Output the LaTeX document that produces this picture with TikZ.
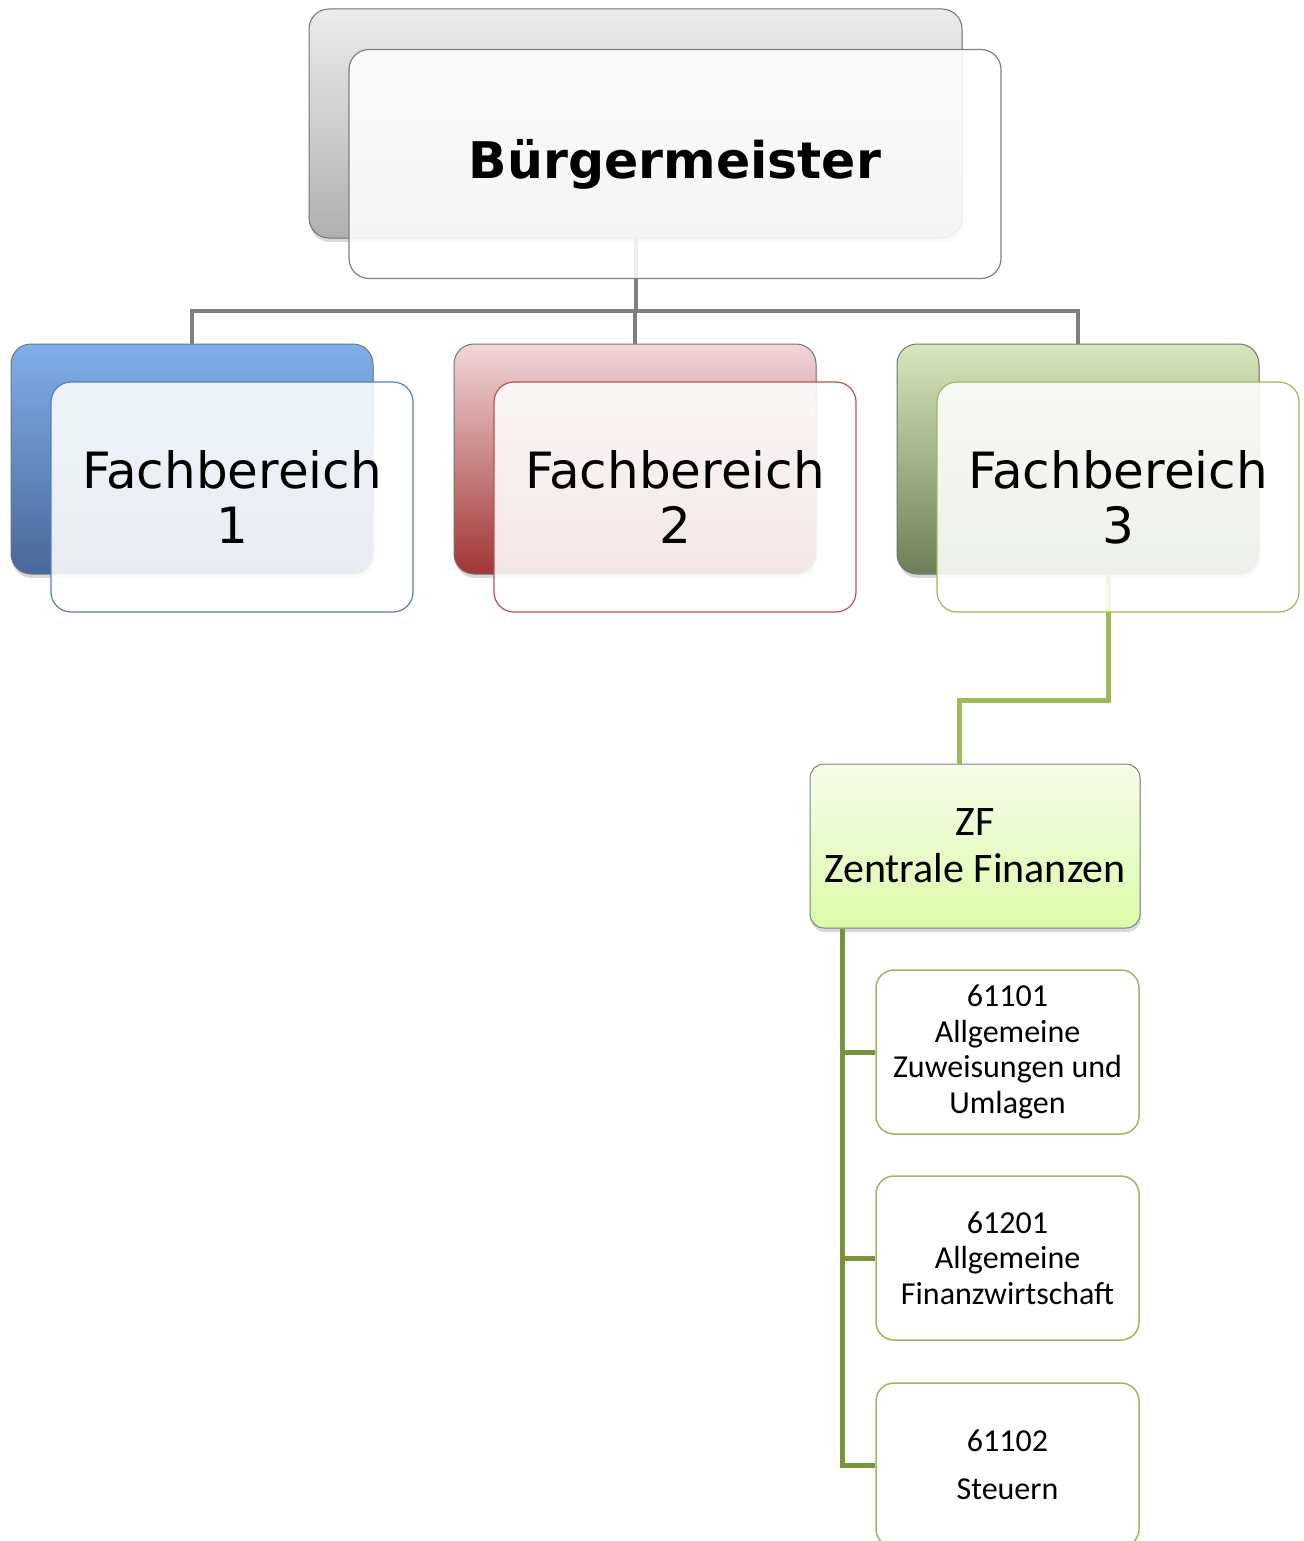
\documentclass[tikz,border=0pt]{standalone}
\usepackage{fontspec}
\newfontfamily\vfont{DejaVu Sans}
\newfontfamily\cfont{Carlito}
\usetikzlibrary{shadows}
\definecolor{orggray}{RGB}{127,127,127}
\definecolor{fbblue}{RGB}{79,129,189}
\definecolor{fbred}{RGB}{192,80,77}
\definecolor{fbgreen}{RGB}{155,187,89}
\definecolor{zfolive}{RGB}{119,147,60}
\definecolor{blueTop}{RGB}{128,174,234}
\definecolor{blueBot}{RGB}{72,104,152}
\definecolor{redTop}{RGB}{242,214,216}
\definecolor{redBot}{RGB}{160,54,52}
\definecolor{greenTop}{RGB}{216,230,188}
\definecolor{greenBot}{RGB}{110,126,86}
\definecolor{zfTop}{RGB}{246,252,236}
\definecolor{zfBot}{RGB}{220,252,168}

\begin{document}
\begin{tikzpicture}[x=1pt,y=-1pt,
    back/.style 2 args={
      rectangle, rounded corners=20pt, inner sep=0pt,
      minimum width=362pt, minimum height=230pt,
      top color=#1, bottom color=#2, draw=black!55, line width=1pt,
      drop shadow={shadow xshift=1pt, shadow yshift=-4pt, opacity=.3},
    },
    front/.style={
      rectangle, rounded corners=20pt, inner sep=0pt, align=center,
      minimum width=362pt, minimum height=230pt,
      fill=white, fill opacity=.88, text opacity=1, draw=#1, line width=1.2pt,
      font=\vfont\fontsize{50}{55}\selectfont,
    },
    unit/.style={
      rectangle, rounded corners=18pt, inner sep=0pt, align=center,
      minimum width=263pt, minimum height=164pt,
      fill=white, draw=fbgreen, line width=1.5pt,
      font=\cfont\fontsize{32}{35.5}\selectfont,
    },
    orgline/.style={draw=orggray, line width=4pt},
  ]
  \path[use as bounding box, fill=white] (0,0) rectangle (1303,1541);

  % Buergermeister
  \node[back={gray!15}{gray!62}, minimum width=653pt, minimum height=229pt] (bmBack) at (635.5,123.5) {};
  % Fachbereiche
  \node[back={blueTop}{blueBot}] (fb1Back) at (192,459) {};
  \node[back={redTop}{redBot}] (fb2Back) at (635,459) {};
  \node[back={greenTop}{greenBot}] (fb3Back) at (1078,459) {};

  % Zentrale Finanzen
  \node[rectangle, rounded corners=14pt, inner sep=0pt, align=center,
    minimum width=330pt, minimum height=164pt,
    top color=zfTop, bottom color=zfBot, draw=black!50, line width=1pt,
    drop shadow={shadow xshift=1pt, shadow yshift=-4pt, opacity=.3},
    font=\cfont\fontsize{42}{47}\selectfont] (zf) at (975,846) {ZF\\Zentrale Finanzen};

  \foreach \f in {fb1Back,fb2Back,fb3Back}
    \draw[orgline] (bmBack.south) -- ++(0,72) -| (\f.north);
  \draw[draw=fbgreen, line width=5pt] ([xshift=30pt]fb3Back.south) -- ++(0,126)
    -| ([xshift=-16pt]zf.north);

  \node[front=orggray, minimum width=652pt, minimum height=229pt,
    font=\vfont\bfseries\fontsize{50.5}{55}\selectfont] (bm) at (675,164) {Bürgermeister};
  \node[front=fbblue] (fb1) at (232,497) {Fachbereich\\1};
  \node[front=fbred] (fb2) at (675,497) {Fachbereich\\2};
  \node[front=fbgreen] (fb3) at (1118,497) {Fachbereich\\3};

  \node[unit] (u1) at (1007.5,1052) {61101\\Allgemeine\\Zuweisungen und\\Umlagen};
  \node[unit] (u2) at (1007.5,1258) {61201\\Allgemeine\\Finanzwirtschaft};
  \node[unit] (u3) at (1007.5,1465) {61102\\[13pt]Steuern};

  \foreach \u in {u1,u2,u3}
    \draw[draw=zfolive, line width=5pt] ([xshift=33pt]zf.south west) |- (\u.west);
\end{tikzpicture}
\end{document}
